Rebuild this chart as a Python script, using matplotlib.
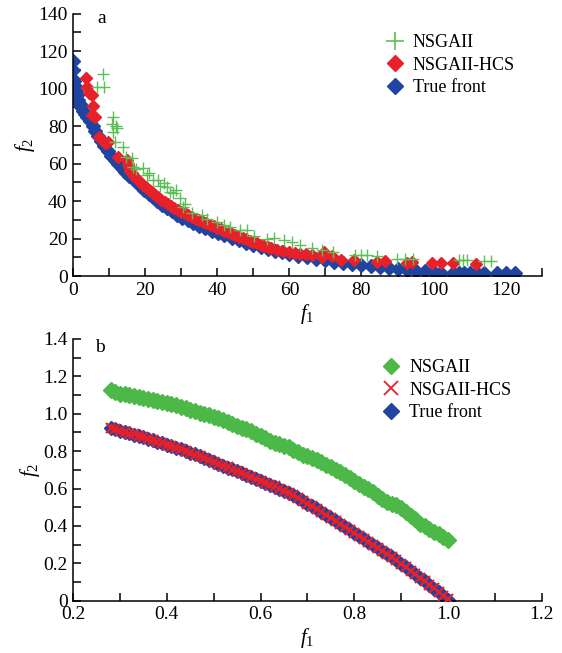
import matplotlib
matplotlib.use("Agg")
import matplotlib.pyplot as plt
from matplotlib.lines import Line2D
from matplotlib.ticker import MultipleLocator, FuncFormatter

plt.rcParams['font.family'] = ['Liberation Serif', 'DejaVu Serif']
plt.rcParams['mathtext.fontset'] = 'custom'
plt.rcParams['mathtext.rm'] = 'Liberation Serif'
plt.rcParams['mathtext.it'] = 'Liberation Serif:italic'

GREEN = '#4cb847'
GREEN_PLUS = '#5cbf55'
RED = '#e8202a'
BLUE = '#1f45a0'

# ---- panel a ----
true_a_f1 = [0, 0, 0, 0.2, 0.4, 0.7, 1.0, 1.4, 1.8, 2.3,
             2.8, 3.4, 4.0, 4.7, 5.4, 6.2, 7.0, 7.8, 8.7, 9.6,
             10.5, 11.5, 12.5, 13.5, 14.5, 15.5, 16.5, 17.6, 18.7, 19.8,
             21, 22.2, 23.4, 24.7, 26, 27.4, 28.8, 30.3, 31.8, 33.4,
             35, 36.7, 38.4, 40.2, 42, 44, 46, 48, 50, 52,
             54, 56, 58, 60, 62.5, 65, 67.5, 70, 72.5, 75,
             77.5, 80, 82.5, 85, 87.5, 90, 92.5, 95, 97.5, 100,
             102, 105.5, 107, 108.5, 110, 112, 114, 117.5, 120, 122.6]
true_a_f2 = [115, 110, 105, 104, 101.5, 99, 96.5, 94, 92, 90,
             88.2, 86.5, 84.7, 82.6, 80.3, 77.6, 74.8, 72.2, 69.5, 66.8,
             64, 61.8, 59.7, 57.6, 55.6, 53.7, 51.9, 50, 48.2, 46,
             44, 42, 40.1, 38.2, 36.4, 34.6, 32.9, 31.3, 29.8, 28.3,
             26.9, 25.6, 24.3, 23, 21.8, 20.5, 19.2, 17.9, 16.7, 15.6,
             14.6, 13.6, 12.7, 11.8, 10.9, 10, 9.2, 8.5, 7.8, 7.2,
             6.6, 6, 5.5, 5, 4.5, 4, 3.5, 3, 2.6, 2.2,
             1.9, 1.7, 1.7, 1.7, 1.7, 1.7, 1.7, 1.7, 1.7, 1.7]

hcs_a_f1 = [3.6, 4.0, 4.5, 5.2, 5.6, 5.3, 6.2, 7.3, 8.9, 9.8,
            12.6, 14.9, 15.1, 15.4, 15.8, 16.3, 17, 17.8, 18.6, 19.4,
            20.2, 21, 21.8, 22.7, 23.6, 24.5, 25.4, 26.3, 27.2, 28.1,
            29, 30, 31, 32, 33, 34, 35, 36, 37, 38,
            39, 40, 41, 42, 43, 44, 45, 46, 47, 48,
            49, 50, 51, 52, 53, 54, 55, 56.6, 58.2, 60,
            61.5, 63, 64.5, 66.3, 69, 69.5, 71.8, 74.2, 77.9, 84.3,
            86.6, 92.7, 94.1, 99.6, 102, 105.5, 111.7]
hcs_a_f2 = [105.6, 101, 97.6, 96.7, 90.9, 86, 85, 74.5, 71, 71.8,
            63.8, 62, 60, 58, 56.2, 54.8, 53.4, 51.8, 50.3, 48.8,
            47.4, 46, 44.7, 43.4, 42.1, 40.9, 39.7, 38.6, 37.5, 36.5,
            35.5, 34.5, 33.5, 32.5, 31.6, 30.7, 29.8, 29, 28.2, 27.4,
            26.6, 25.8, 25, 24.2, 23.4, 22.6, 21.8, 21, 20.3, 19.6,
            18.9, 18.2, 17.5, 16.8, 16.2, 15.6, 15, 13.9, 13.4, 13.1,
            12.6, 12.1, 11.6, 11.2, 10.3, 13, 10.7, 8.9, 8.6, 7.7,
            8.2, 7.1, 7.7, 7.1, 7.1, 6.8, 6.4]

nsga_a_f1 = [8.2, 6.6, 8.5, 11.2, 10.8, 11.8, 11.2, 12.3, 11.6, 13.9,
             14.7, 16.3, 16.7, 19.5, 20.4, 21, 22.3, 23.5, 25.1, 26,
             27.8, 28.5, 29.7, 30.4, 33, 35.7, 37.1, 39.9, 42, 43.6,
             46.3, 48.2, 50.1, 53.8, 55.6, 58.4, 60.7, 63, 66.3, 69,
             78.3, 81.5, 84.3, 89.8, 92.1, 94.4, 107, 108.2, 109.4, 114,
             115.8, 17.5, 24, 27, 31, 72, 80]
nsga_a_f2 = [108, 100.8, 100.8, 84.8, 81, 80, 77, 78.8, 71.8, 69,
             63.8, 63, 58.5, 57.5, 53.9, 55, 51.2, 51.5, 49.6, 47.5,
             44.2, 46, 41.5, 37, 33.5, 32.5, 30.7, 28.9, 27.5, 26.2,
             24.5, 24.5, 21.7, 20.1, 20.6, 19.3, 18.4, 16.6, 15.3, 14,
             11.2, 11.2, 10.6, 9, 9, 9, 8.5, 8.5, 8.5, 8.0,
             8.0, 57, 48, 45, 38.5, 13, 11.5]

# ---- panel b ----
true_b_f1 = [0.28, 0.29, 0.30, 0.31, 0.32, 0.33, 0.34, 0.35, 0.36, 0.37,
             0.38, 0.39, 0.40, 0.41, 0.42, 0.43, 0.44, 0.45, 0.46, 0.47,
             0.48, 0.49, 0.50, 0.51, 0.52, 0.53, 0.54, 0.55, 0.56, 0.57,
             0.58, 0.59, 0.60, 0.61, 0.62, 0.63, 0.64, 0.65, 0.66, 0.67,
             0.68, 0.69, 0.70, 0.71, 0.72, 0.73, 0.74, 0.75, 0.76, 0.77,
             0.78, 0.79, 0.80, 0.81, 0.82, 0.83, 0.84, 0.85, 0.86, 0.87,
             0.88, 0.89, 0.90, 0.91, 0.92, 0.93, 0.94, 0.95, 0.96, 0.97,
             0.98, 0.99, 1.00]
true_b_f2 = [0.923, 0.916, 0.909, 0.902, 0.895, 0.888, 0.880, 0.873, 0.865, 0.858,
             0.850, 0.842, 0.834, 0.826, 0.817, 0.809, 0.800, 0.791, 0.782, 0.773,
             0.764, 0.753, 0.742, 0.732, 0.722, 0.712, 0.702, 0.692, 0.682, 0.672,
             0.661, 0.651, 0.640, 0.630, 0.620, 0.610, 0.600, 0.588, 0.575, 0.563,
             0.550, 0.535, 0.520, 0.505, 0.490, 0.475, 0.460, 0.444, 0.428, 0.412,
             0.395, 0.379, 0.362, 0.346, 0.330, 0.314, 0.298, 0.282, 0.266, 0.250,
             0.234, 0.216, 0.198, 0.179, 0.160, 0.141, 0.122, 0.103, 0.084, 0.065,
             0.046, 0.026, 0.005]
hcs_b_f1 = true_b_f1
hcs_b_f2 = [0.921, 0.917, 0.907, 0.903, 0.894, 0.889, 0.879, 0.874, 0.864, 0.859,
            0.849, 0.843, 0.833, 0.827, 0.816, 0.810, 0.799, 0.792, 0.781, 0.774,
            0.763, 0.754, 0.741, 0.733, 0.721, 0.713, 0.701, 0.693, 0.681, 0.673,
            0.660, 0.652, 0.639, 0.631, 0.619, 0.611, 0.599, 0.589, 0.574, 0.564,
            0.549, 0.536, 0.519, 0.506, 0.489, 0.476, 0.459, 0.445, 0.427, 0.413,
            0.394, 0.380, 0.361, 0.347, 0.329, 0.315, 0.297, 0.283, 0.265, 0.251,
            0.233, 0.217, 0.197, 0.180, 0.159, 0.142, 0.121, 0.104, 0.083, 0.066,
            0.045, 0.027, 0.008]
nsga_b_f1 = true_b_f1
nsga_b_f2 = [1.125, 1.118, 1.106, 1.104, 1.098, 1.095, 1.090, 1.086, 1.080, 1.076,
             1.068, 1.062, 1.056, 1.052, 1.044, 1.038, 1.030, 1.022, 1.012, 1.006,
             0.998, 0.992, 0.985, 0.976, 0.966, 0.956, 0.945, 0.936, 0.925, 0.916,
             0.905, 0.894, 0.882, 0.868, 0.855, 0.846, 0.838, 0.830, 0.822, 0.808,
             0.795, 0.778, 0.775, 0.765, 0.750, 0.740, 0.728, 0.715, 0.700, 0.688,
             0.672, 0.655, 0.638, 0.625, 0.610, 0.595, 0.580, 0.560, 0.545, 0.528,
             0.520, 0.512, 0.495, 0.475, 0.455, 0.435, 0.410, 0.398, 0.385, 0.370,
             0.355, 0.340, 0.326]

fig = plt.figure(figsize=(5.62, 6.53), dpi=100)
ax1 = fig.add_axes([0.130, 0.577, 0.834, 0.402])
ax2 = fig.add_axes([0.130, 0.080, 0.834, 0.401])


def style(ax):
    for s in ['top', 'right']:
        ax.spines[s].set_visible(False)
    for s in ['left', 'bottom']:
        ax.spines[s].set_linewidth(1.1)
    ax.tick_params(which='both', direction='in', length=6, width=1.1,
                   labelsize=14, pad=4)


# panel a
ax1.plot(true_a_f1, true_a_f2, 'D', color=BLUE, ms=7, mec=BLUE, zorder=2)
ax1.plot(hcs_a_f1, hcs_a_f2, 'D', color=RED, ms=5.8, mec=RED, zorder=3)
ax1.plot(nsga_a_f1, nsga_a_f2, '+', color=GREEN_PLUS, ms=8.5, mew=1.0, zorder=4)
ax1.set_xlim(0, 130)
ax1.set_ylim(0, 140)
ax1.xaxis.set_major_locator(MultipleLocator(20))
ax1.xaxis.set_minor_locator(MultipleLocator(10))
ax1.yaxis.set_major_locator(MultipleLocator(20))
ax1.yaxis.set_minor_locator(MultipleLocator(10))
style(ax1)
ax1.set_xlabel(r'$f_1$', fontsize=15, labelpad=2)
ax1.set_ylabel(r'$f_2$', fontsize=15, labelpad=0.5)
ax1.text(0.062, 0.966, 'a', transform=ax1.transAxes, fontsize=14,
         ha='center', va='baseline')
h1 = [Line2D([], [], ls='none', marker='+', color=GREEN_PLUS, ms=13, mew=1.2),
      Line2D([], [], ls='none', marker='D', color=RED, ms=8),
      Line2D([], [], ls='none', marker='D', color=BLUE, ms=8)]
ax1.legend(h1, ['NSGAII', 'NSGAII-HCS', 'True front'], loc='upper left',
           bbox_to_anchor=(0.64, 0.97), frameon=False, fontsize=13,
           handlelength=1.0, handletextpad=0.5, labelspacing=0.3,
           borderpad=0.2)

# panel b
ax2.plot(nsga_b_f1, nsga_b_f2, 'D', color=GREEN, ms=8.5, mec=GREEN, zorder=2)
ax2.plot(true_b_f1, true_b_f2, 'D', color=BLUE, ms=7.5, mec=BLUE, zorder=2)
ax2.plot(hcs_b_f1, hcs_b_f2, 'x', color=RED, ms=7, mew=1.6, zorder=3)
ax2.set_xlim(0.2, 1.2)
ax2.set_ylim(0, 1.4)
ax2.xaxis.set_major_locator(MultipleLocator(0.2))
ax2.xaxis.set_minor_locator(MultipleLocator(0.1))
ax2.yaxis.set_major_locator(MultipleLocator(0.2))
ax2.yaxis.set_minor_locator(MultipleLocator(0.1))
fmt = FuncFormatter(lambda v, p: '0' if abs(v) < 1e-9 else '%.1f' % v)
ax2.xaxis.set_major_formatter(fmt)
ax2.yaxis.set_major_formatter(fmt)
style(ax2)
ax2.set_xlabel(r'$f_1$', fontsize=15, labelpad=2)
ax2.set_ylabel(r'$f_2$', fontsize=15, labelpad=0.5)
ax2.text(0.057, 0.950, 'b', transform=ax2.transAxes, fontsize=14,
         ha='center', va='baseline')
h2 = [Line2D([], [], ls='none', marker='D', color=GREEN, ms=8),
      Line2D([], [], ls='none', marker='x', color=RED, ms=10, mew=1.3),
      Line2D([], [], ls='none', marker='D', color=BLUE, ms=8)]
ax2.legend(h2, ['NSGAII', 'NSGAII-HCS', 'True front'], loc='upper left',
           bbox_to_anchor=(0.633, 0.97), frameon=False, fontsize=13,
           handlelength=1.0, handletextpad=0.5, labelspacing=0.3,
           borderpad=0.2)

fig.savefig('out.png', dpi=100)
